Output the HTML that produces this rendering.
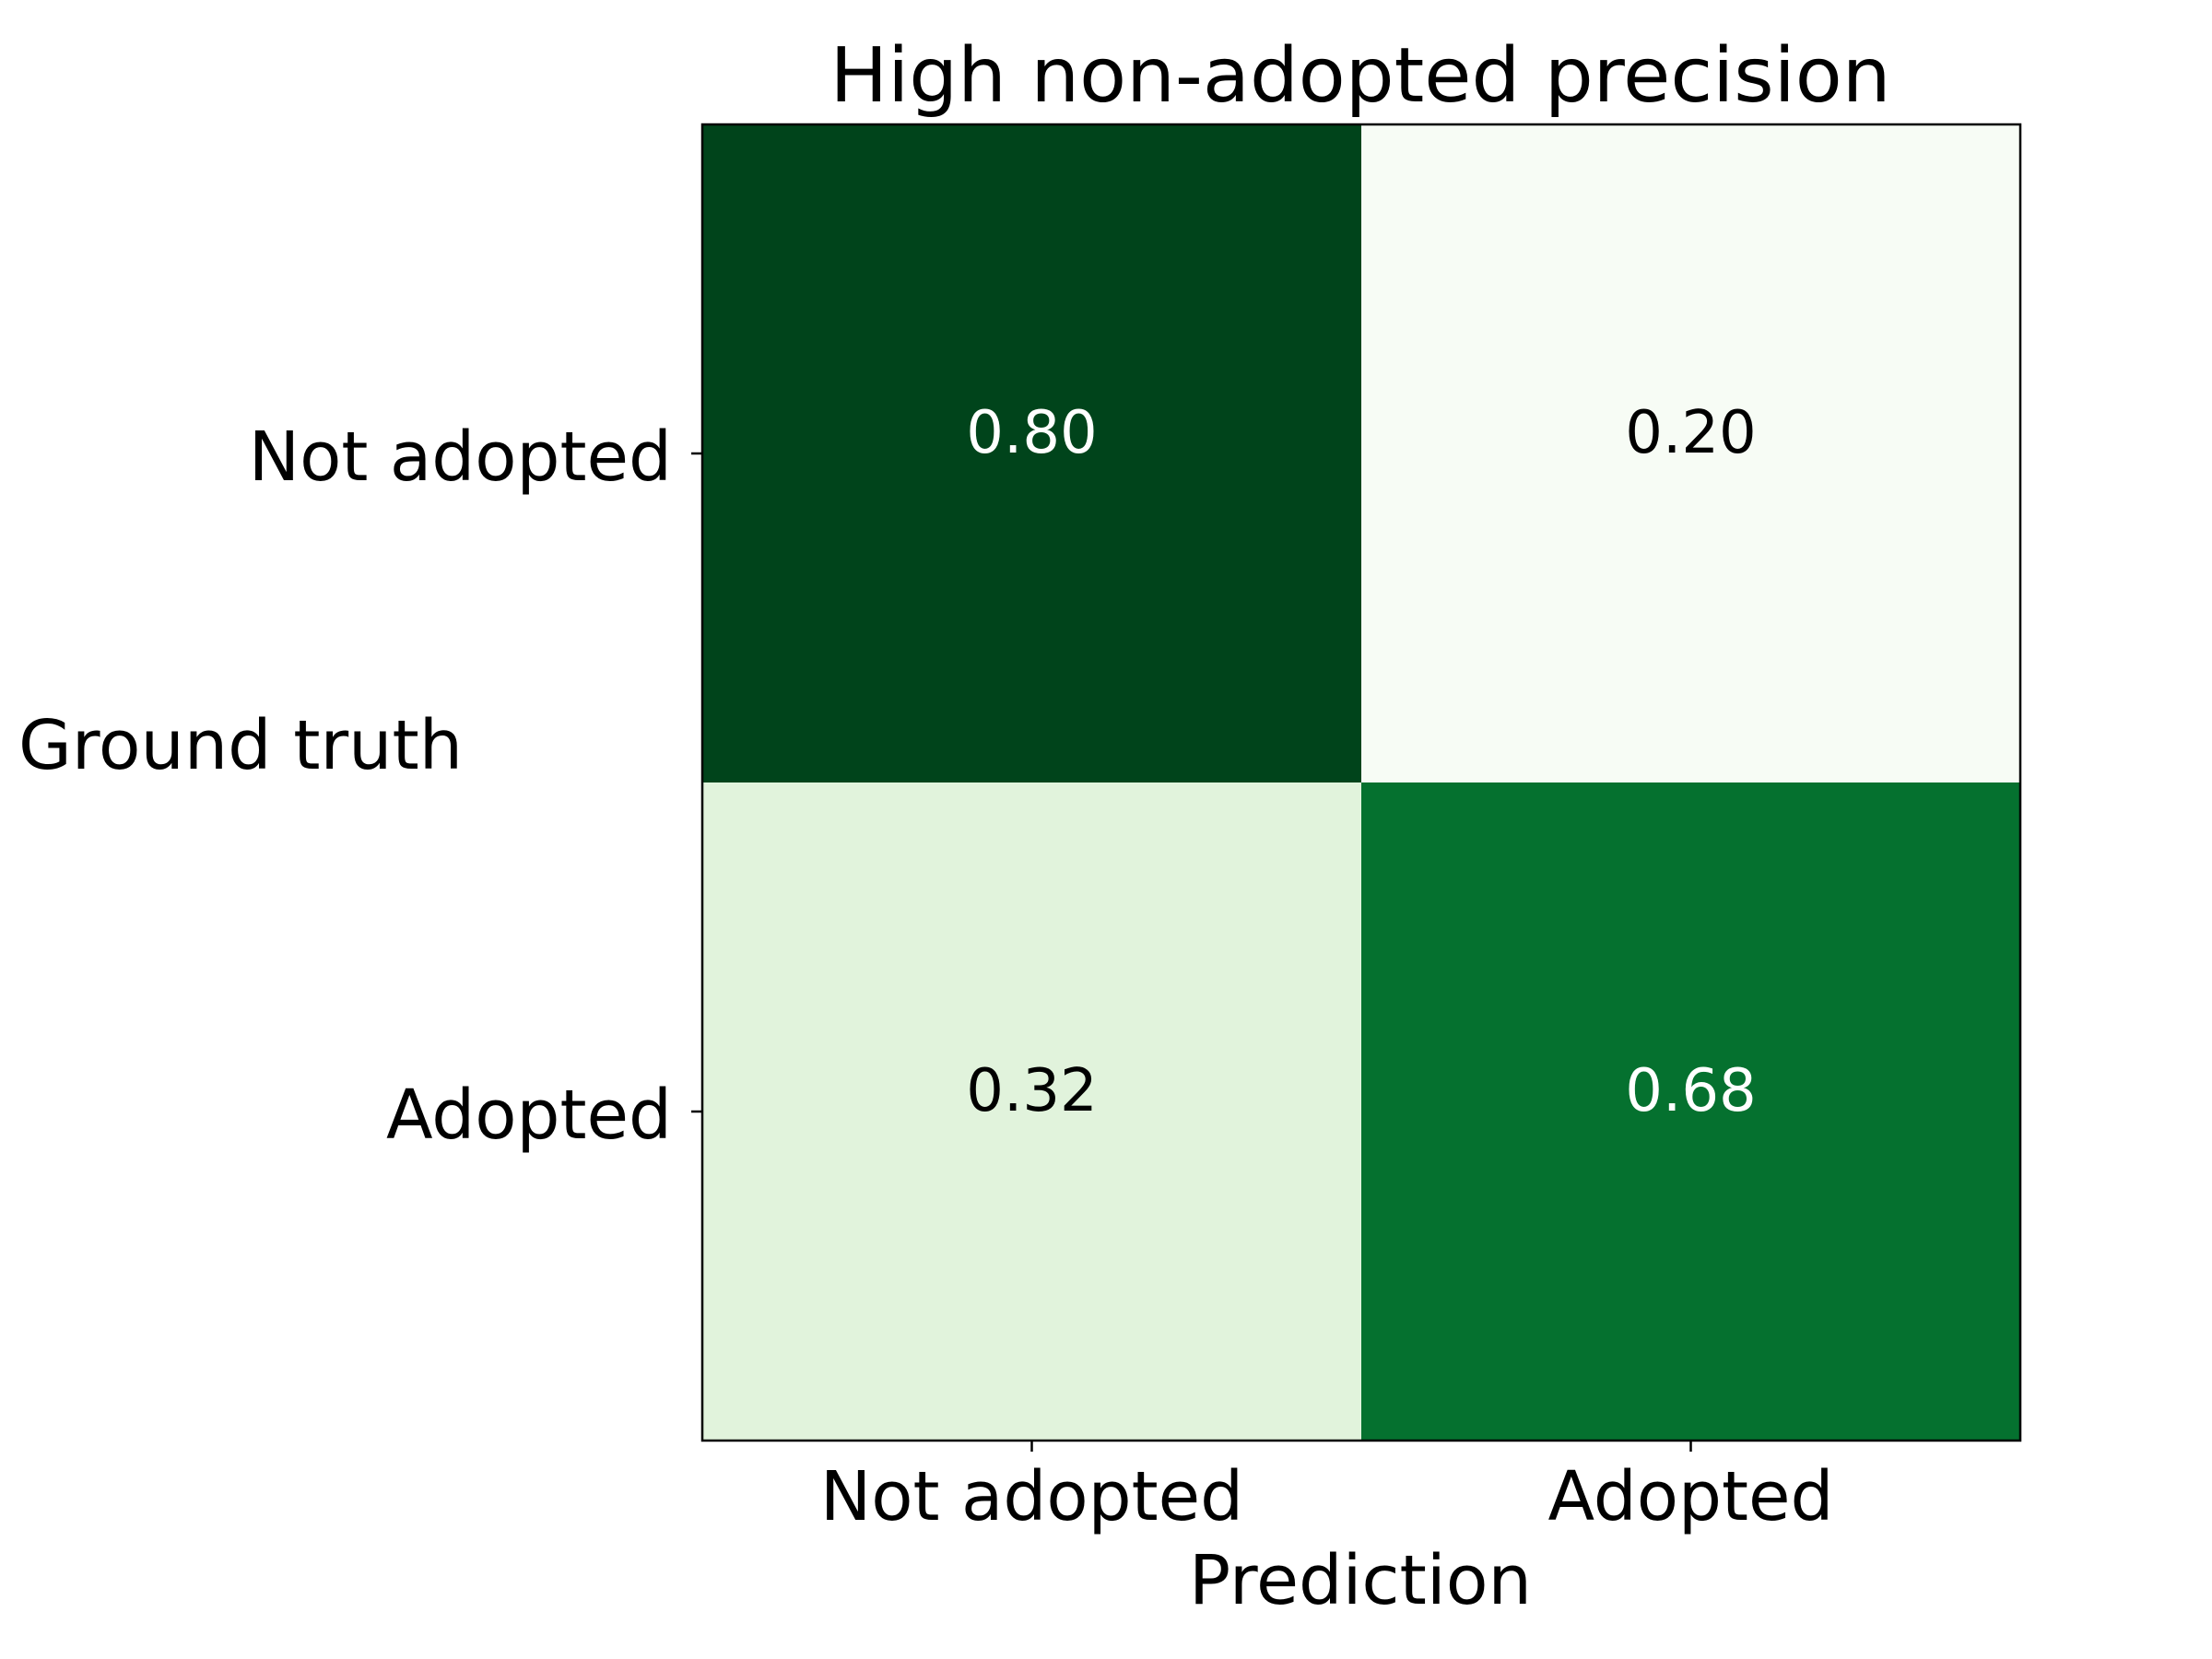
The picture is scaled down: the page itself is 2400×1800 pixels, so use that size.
<!DOCTYPE html>
<html><head><meta charset="utf-8"><style>
html,body{margin:0;padding:0;background:#fff;}
svg{display:block;font-family:"DejaVu Sans","Liberation Sans",sans-serif;}
</style></head><body>
<svg id="chart" width="2400" height="1800" viewBox="0 0 2400 1800" xmlns="http://www.w3.org/2000/svg">
<rect width="2400" height="1800" fill="#fff"/>
<text x="1476" y="110" font-size="82" text-anchor="middle" textLength="1151" lengthAdjust="spacingAndGlyphs">High non-adopted precision</text>
<g id="cells"></g>
<rect x="762" y="135" width="1430" height="1428" fill="none" stroke="#000" stroke-width="2.5"/>
<g id="ticks"></g>
<text x="20" y="834" font-size="74" textLength="482" lengthAdjust="spacingAndGlyphs">Ground truth</text>
<text x="1476" y="1740" font-size="74" text-anchor="middle" textLength="372" lengthAdjust="spacingAndGlyphs">Prediction</text>
</svg>
<script>
const rowLabels = ["Not adopted", "Adopted"];
const colLabels = ["Not adopted", "Adopted"];
const values = [[0.80, 0.20], [0.32, 0.68]];

const X0 = 762, Y0 = 135, W = 1430, H = 1428;
const nR = rowLabels.length, nC = colLabels.length;
const cw = W / nC, ch = H / nR;
const xPos = j => X0 + j * cw;
const yPos = i => Y0 + i * ch;
const flat = values.flat();
const vmin = Math.min(...flat), vmax = Math.max(...flat);
const greens = ["#f7fcf5","#e5f5e0","#c7e9c0","#a1d99b","#74c476","#41ab5d","#238b45","#006d2c","#00441b"];
function hex(c){return [1,3,5].map(k=>parseInt(c.substr(k,2),16));}
function cmap(t){
  t = Math.max(0, Math.min(1, t));
  t = t + 0.6 * t * (1 - t) * (2 * t - 1);
  t = Math.max(0, Math.min(1, t));
  const p = t * (greens.length - 1), k = Math.min(Math.floor(p), greens.length - 2), f = p - k;
  const a = hex(greens[k]), b = hex(greens[k+1]);
  return "rgb(" + a.map((v,i)=>Math.round(v + (b[i]-v)*f)).join(",") + ")";
}
const NS = "http://www.w3.org/2000/svg";
const cells = document.getElementById("cells");
const ticks = document.getElementById("ticks");
const thresh = (vmin + vmax) / 2;
for (let i = 0; i < nR; i++) {
  for (let j = 0; j < nC; j++) {
    const v = values[i][j];
    const r = document.createElementNS(NS, "rect");
    r.setAttribute("x", xPos(j)); r.setAttribute("y", yPos(i));
    r.setAttribute("width", cw + 0.5); r.setAttribute("height", ch + 0.5);
    r.setAttribute("fill", cmap((v - vmin) / (vmax - vmin)));
    
    
    cells.appendChild(r);
    const t = document.createElementNS(NS, "text");
    t.setAttribute("x", xPos(j) + cw / 2);
    t.setAttribute("y", yPos(i) + ch / 2 - 1);
    t.setAttribute("font-size", "64");
    t.setAttribute("text-anchor", "middle");
    t.setAttribute("fill", v > thresh ? "#fff" : "#000");
    t.textContent = v.toFixed(2);
    
    
    cells.appendChild(t);
  }
}
for (let i = 0; i < nR; i++) {
  const y = yPos(i) + ch / 2;
  const l = document.createElementNS(NS, "line");
  l.setAttribute("x1", X0 - 12); l.setAttribute("x2", X0);
  l.setAttribute("y1", y); l.setAttribute("y2", y);
  l.setAttribute("stroke", "#000"); l.setAttribute("stroke-width", "2.5");
  
  
  ticks.appendChild(l);
  const t = document.createElementNS(NS, "text");
  t.setAttribute("x", X0 - 33); t.setAttribute("y", y + 29);
  t.setAttribute("font-size", "74"); t.setAttribute("text-anchor", "end");
  t.textContent = rowLabels[i];
  
  
  ticks.appendChild(t);
}
for (let j = 0; j < nC; j++) {
  const x = xPos(j) + cw / 2;
  const l = document.createElementNS(NS, "line");
  l.setAttribute("x1", x); l.setAttribute("x2", x);
  l.setAttribute("y1", Y0 + H); l.setAttribute("y2", Y0 + H + 12);
  l.setAttribute("stroke", "#000"); l.setAttribute("stroke-width", "2.5");
  
  
  ticks.appendChild(l);
  const t = document.createElementNS(NS, "text");
  t.setAttribute("x", x); t.setAttribute("y", 1649);
  t.setAttribute("font-size", "74"); t.setAttribute("text-anchor", "middle");
  t.textContent = colLabels[j];
  
  
  ticks.appendChild(t);
}
</script>
</body></html>
